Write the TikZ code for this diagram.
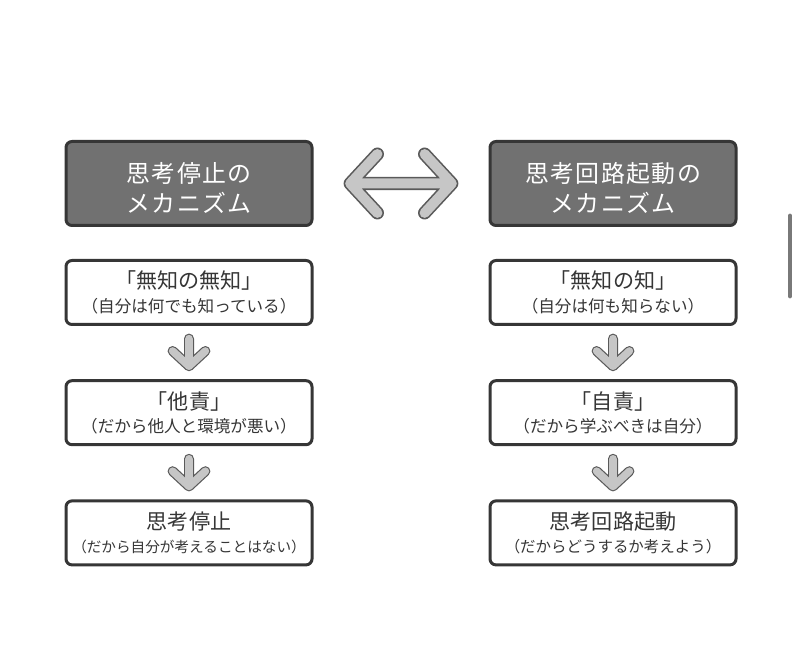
\documentclass[tikz,border=0pt]{standalone}
\usepackage{fontspec}
\setmainfont{Noto Sans CJK JP}
\newfontfamily\headfont[LetterSpace=6]{Noto Sans CJK JP}
\usetikzlibrary{positioning,calc}
\definecolor{MechDark}{HTML}{363636}
\definecolor{MechHead}{HTML}{717171}
\definecolor{MechArrow}{HTML}{C6C6C6}
\definecolor{MechEdge}{HTML}{5A5A5A}
\newcommand\mechbig[1]{{\fontsize{15}{17}\selectfont #1}}

\begin{document}
\begin{tikzpicture}[node distance=1.33cm,every node/.style={text=MechDark}]
    \tikzset{head/.style={rounded corners=0.15cm,draw=MechDark,line width=0.075cm,fill=MechHead,text=white,
      minimum width=6.15cm,minimum height=2.1cm,align=center,inner sep=0pt,font=\headfont\fontsize{17}{21.3}\selectfont},
      stepbox/.style={rounded corners=0.15cm,draw=MechDark,line width=0.075cm,fill=white,
      minimum width=6.15cm,minimum height=1.6cm,align=center,inner sep=0pt,font=\fontsize{11.8}{16.6}\selectfont}}
    \useasboundingbox (0,0) rectangle (20,-16.35);
    \node[head] (lhead) at (4.725,-4.5875) {\rule{0pt}{1.25em}思考停止の\\メカニズム};
    \node[head] (rhead) at (15.325,-4.5875) {\rule{0pt}{1.25em}思考回路起動の\\メカニズム};
    \node[stepbox,below=0.8cm of lhead] (l1) {\mechbig{「無知の無知」}\\（自分は何でも知っている）};
    \node[stepbox,below=of l1] (l2) {\mechbig{「他責」}\\（だから他人と環境が悪い）};
    \node[stepbox,below=of l2] (l3) {\mechbig{思考停止}\\{\fontsize{10.4}{16.6}\selectfont（だから自分が考えることはない）}};
    \node[stepbox,below=0.8cm of rhead] (r1) {\mechbig{「無知の知」}\\（自分は何も知らない）};
    \node[stepbox,below=of r1] (r2) {\mechbig{「自責」}\\（だから学ぶべきは自分）};
    \node[stepbox,below=of r2] (r3) {\mechbig{思考回路起動}\\{\fontsize{11}{16.6}\selectfont（だからどうするか考えよう）}};
    % two-way arrow between the headers
    \coordinate (mid) at ($(lhead.east)!0.5!(rhead.west)$);
    \foreach \w/\c in {0.33cm/MechEdge,0.25cm/MechArrow}
      \draw[line width=\w,\c,line cap=round,line join=round,shift={(mid)}]
        (-0.59,0.735) -- (-1.27,0) -- (-0.59,-0.735) (-1.27,0) -- (1.27,0)
        (0.59,0.735) -- (1.27,0) -- (0.59,-0.735);
    % down arrows
    \foreach \x/\y in {l1/l2,l2/l3,r1/r2,r2/r3}{
      \coordinate (m) at ($(\x.south)!0.5!(\y.north)$);
      \foreach \w/\c in {0.25cm/MechEdge,0.19cm/MechArrow}
        \draw[line width=\w,\c,line cap=round,line join=round,shift={(m)}]
          (0,0.35) -- (0,-0.34) (-0.41,0.04) -- (0,-0.34) -- (0.41,0.04);
    }
    \draw[line width=0.12cm,gray!95!black,line cap=round] (19.75,-5.4) -- (19.75,-7.4);
  \end{tikzpicture}
\end{document}
